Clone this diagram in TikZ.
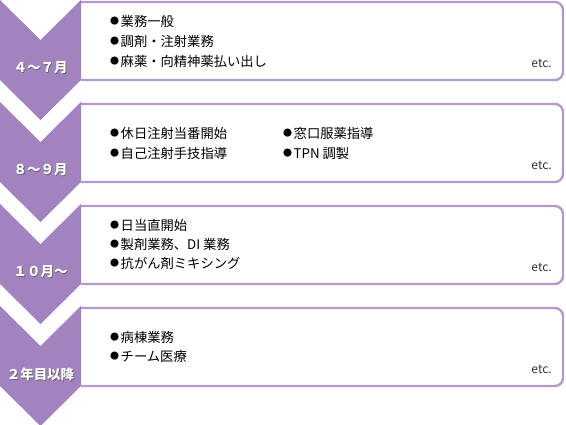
\documentclass[tikz,border=0pt]{standalone}
\usepackage{fontspec}
\setmainfont{Noto Sans CJK JP}
\definecolor{stagepurple}{RGB}{163,131,191}
\definecolor{panelpurple}{RGB}{181,153,205}
\newcommand{\dotmark}{\raisebox{1.3pt}{\fontsize{9}{9}\selectfont ●}\hspace{1.5pt}}
\usetikzlibrary{positioning}

\begin{document}
\begin{tikzpicture}[x=1pt, y=-1pt,
    chevron/.style={fill=stagepurple},
    panel/.style={draw=panelpurple, line width=2.4pt, fill=white, rounded corners=8pt},
    stagelabel/.style={text=white, inner sep=0pt, font=\fontsize{13.5}{14}\selectfont\bfseries},
    labelshadow/.style={text=black!60, inner sep=0pt, font=\fontsize{13.5}{14}\selectfont\bfseries},
    item/.style={anchor=west, inner sep=0pt, font=\fontsize{13.3}{14}\selectfont},
    etcnote/.style={anchor=east, inner sep=0pt, text=black!80, font=\fontsize{12}{12}\selectfont}]
    \useasboundingbox (0,0) rectangle (566,425);

    % Panels (left edge cut off at the chevrons)
    \begin{scope}
        \clip (81,0) rectangle (566,425);
        \draw[panel] (60,2) rectangle (563,80);
        \draw[panel] (60,104) rectangle (563,182);
        \draw[panel] (60,206) rectangle (563,284);
        \draw[panel] (60,308) rectangle (563,386);
    \end{scope}

    % Chevrons
    \fill[chevron] (0,0) -- (40.5,40) -- (81,0) -- (81,80) -- (40.5,120) -- (0,80) -- cycle;
    \fill[chevron] (0,102) -- (40.5,142) -- (81,102) -- (81,182) -- (40.5,222) -- (0,182) -- cycle;
    \fill[chevron] (0,204) -- (40.5,244) -- (81,204) -- (81,284) -- (40.5,324) -- (0,284) -- cycle;
    \fill[chevron] (0,306) -- (40.5,346) -- (81,306) -- (81,386) -- (40.5,426) -- (0,386) -- cycle;

    % Stage labels
    \node[labelshadow] (s1s) at (41.5,69) {４～７月};
    \node[stagelabel] (s1) at (40.5,68) {４～７月};
    \node[labelshadow] (s2s) at (41.5,171) {８～９月};
    \node[stagelabel] (s2) at (40.5,170) {８～９月};
    \node[labelshadow] (s3s) at (41.5,273) {１０月～};
    \node[stagelabel] (s3) at (40.5,272) {１０月～};
    \node[labelshadow] (s4s) at (41.5,375) {２年目以降};
    \node[stagelabel] (s4) at (40.5,374) {２年目以降};

    % Items, stage 1
    \node[item] (i1a) at (110,21) {\dotmark 業務一般};
    \node[item] (i1b) at (110,41) {\dotmark 調剤・注射業務};
    \node[item] (i1c) at (110,61) {\dotmark 麻薬・向精神薬払い出し};
    \node[etcnote] (e1) at (552,63) {etc.};

    % Items, stage 2
    \node[item] (i2a) at (110,133) {\dotmark 休日注射当番開始};
    \node[item] (i2b) at (110,153) {\dotmark 自己注射手技指導};
    \node[item] (i2c) at (283,133) {\dotmark 窓口服薬指導};
    \node[item] (i2d) at (283,153) {\dotmark TPN 調製};
    \node[etcnote] (e2) at (552,165) {etc.};

    % Items, stage 3
    \node[item] (i3a) at (110,225) {\dotmark 日当直開始};
    \node[item] (i3b) at (110,244) {\dotmark 製剤業務、DI 業務};
    \node[item] (i3c) at (110,263) {\dotmark 抗がん剤ミキシング};
    \node[etcnote] (e3) at (552,267) {etc.};

    % Items, stage 4
    \node[item] (i4a) at (110,337) {\dotmark 病棟業務};
    \node[item] (i4b) at (110,356) {\dotmark チーム医療};
    \node[etcnote] (e4) at (552,369) {etc.};
\end{tikzpicture}
\end{document}
